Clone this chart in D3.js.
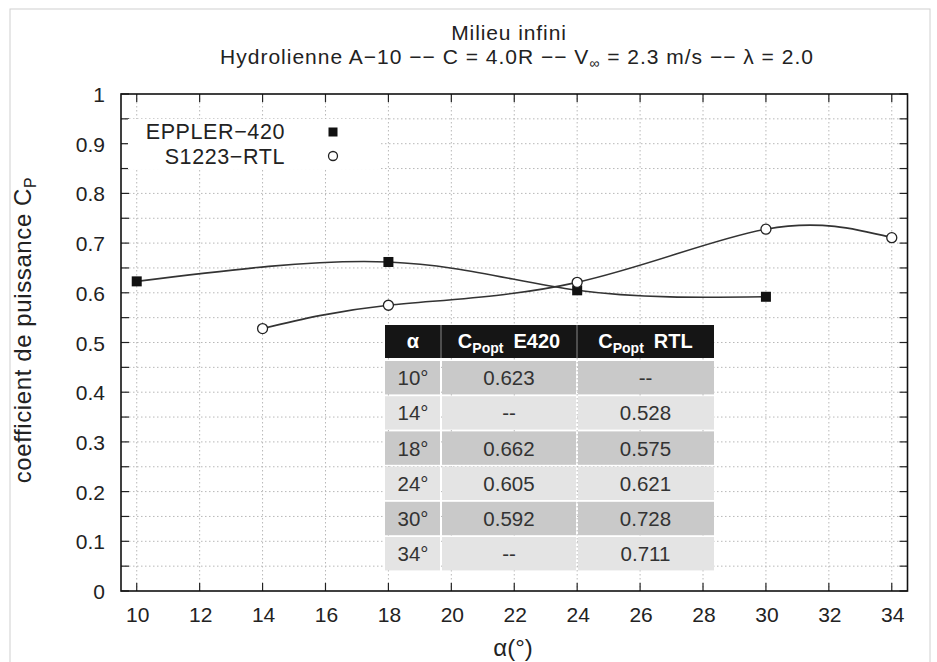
<!DOCTYPE html>
<html>
<head>
<meta charset="utf-8">
<script src="https://cdn.jsdelivr.net/npm/d3@7"></script>
<style>
  body { margin: 0; background: #fff; }
  text { font-family: "Liberation Sans", Arial, sans-serif; }
</style>
</head>
<body>
<div id="chart"></div>
<script>
// data
const anglesE420 = [10, 18, 24, 30];
const cpE420 = [0.623, 0.662, 0.605, 0.592];
const anglesRTL = [14, 18, 24, 30, 34];
const cpRTL = [0.528, 0.575, 0.621, 0.728, 0.711];

// table rows
const tableAngles = ["10°", "14°", "18°", "24°", "30°", "34°"];
const tableE420 = ["0.623", "--", "0.662", "0.605", "0.592", "--"];
const tableRTL = ["--", "0.528", "0.575", "0.621", "0.728", "0.711"];

const xTicks = d3.range(10, 35, 2);
const yTicks = d3.range(0, 1.01, 0.1);
const yMinor = d3.range(0, 1.001, 0.05);

const width = 937, height = 662;
const plotLeft = 121, plotRight = 907.5, plotTop = 94, plotBottom = 591;

const svg = d3.select("#chart").append("svg")
  .attr("width", width)
  .attr("height", height);

// faint page border
svg.append("rect")
  .attr("x", 10).attr("y", 9)
  .attr("width", 920).attr("height", 700)
  .attr("fill", "none")
  .attr("stroke", "#d0d0d0")
  .attr("stroke-width", 1);

const x = d3.scaleLinear().domain([9.5, 34.5]).range([plotLeft, plotRight]);
const y = d3.scaleLinear().domain([0, 1]).range([plotBottom, plotTop]);

// grid
const grid = svg.append("g")
  .attr("stroke", "#b8b8b8")
  .attr("stroke-width", 1)
  .attr("stroke-dasharray", "1.5,2.5");

grid.selectAll(".vg").data(xTicks).enter().append("line")
  .attr("x1", d => x(d)).attr("x2", d => x(d))
  .attr("y1", plotTop).attr("y2", plotBottom);

grid.selectAll(".hg").data(yMinor.slice(1, -1)).enter().append("line")
  .attr("x1", plotLeft).attr("x2", plotRight)
  .attr("y1", d => y(d)).attr("y2", d => y(d));

// ticks (inward, on all four sides)
const tickLen = 8;
const ticks = svg.append("g").attr("stroke", "#222").attr("stroke-width", 1.2);
xTicks.forEach(d => {
  ticks.append("line").attr("x1", x(d)).attr("x2", x(d)).attr("y1", plotBottom).attr("y2", plotBottom - tickLen);
  ticks.append("line").attr("x1", x(d)).attr("x2", x(d)).attr("y1", plotTop).attr("y2", plotTop + tickLen);
});
yMinor.forEach(d => {
  ticks.append("line").attr("x1", plotLeft).attr("x2", plotLeft + tickLen).attr("y1", y(d)).attr("y2", y(d));
  ticks.append("line").attr("x1", plotRight).attr("x2", plotRight - tickLen).attr("y1", y(d)).attr("y2", y(d));
});

// tick labels
svg.append("g").selectAll("text").data(xTicks).enter().append("text")
  .attr("x", d => x(d) + 1)
  .attr("y", 622)
  .attr("text-anchor", "middle")
  .attr("font-size", 21)
  .attr("fill", "#222")
  .text(d => d);

svg.append("g").selectAll("text").data(yTicks).enter().append("text")
  .attr("x", 105)
  .attr("y", d => y(d) + 8)
  .attr("text-anchor", "end")
  .attr("font-size", 21)
  .attr("fill", "#222")
  .text(d => d3.format("~g")(+d.toFixed(1)));

// curves
const line = d3.line()
  .x(d => x(d[0]))
  .y(d => y(d[1]))
  .curve(d3.curveNatural);

const ptsE420 = anglesE420.map((a, i) => [a, cpE420[i]]);
const ptsRTL = anglesRTL.map((a, i) => [a, cpRTL[i]]);

svg.append("path")
  .attr("d", line(ptsE420))
  .attr("fill", "none")
  .attr("stroke", "#333")
  .attr("stroke-width", 1.6);

svg.append("path")
  .attr("d", line(ptsRTL))
  .attr("fill", "none")
  .attr("stroke", "#333")
  .attr("stroke-width", 1.6);

// markers
svg.selectAll(".sq").data(ptsE420).enter().append("rect")
  .attr("x", d => x(d[0]) - 5)
  .attr("y", d => y(d[1]) - 5)
  .attr("width", 10).attr("height", 10)
  .attr("fill", "#111");

svg.selectAll(".ci").data(ptsRTL).enter().append("circle")
  .attr("cx", d => x(d[0]))
  .attr("cy", d => y(d[1]))
  .attr("r", 5)
  .attr("fill", "#fff")
  .attr("stroke", "#222")
  .attr("stroke-width", 1.3);

// legend (opaque box)
const legend = svg.append("g");
legend.append("rect")
  .attr("x", 128).attr("y", 119)
  .attr("width", 252).attr("height", 50)
  .attr("fill", "#fff");
legend.append("text")
  .attr("x", 285).attr("y", 139)
  .attr("text-anchor", "end")
  .attr("font-size", 21.5)
  .attr("letter-spacing", 0.6)
  .attr("fill", "#222")
  .text("EPPLER\u2212420");
legend.append("text")
  .attr("x", 285).attr("y", 164)
  .attr("text-anchor", "end")
  .attr("font-size", 21.5)
  .attr("letter-spacing", 0.6)
  .attr("fill", "#222")
  .text("S1223\u2212RTL");
legend.append("rect")
  .attr("x", 328.5).attr("y", 127.5)
  .attr("width", 9).attr("height", 9)
  .attr("fill", "#111");
legend.append("circle")
  .attr("cx", 333).attr("cy", 156)
  .attr("r", 4.5)
  .attr("fill", "#fff")
  .attr("stroke", "#222")
  .attr("stroke-width", 1.3);

// frame
svg.append("rect")
  .attr("x", plotLeft).attr("y", plotTop)
  .attr("width", plotRight - plotLeft).attr("height", plotBottom - plotTop)
  .attr("fill", "none")
  .attr("stroke", "#111")
  .attr("stroke-width", 1.6);

// data table
const colX = [385, 441, 577, 714];
const headTop = 325, headH = 33;
const rowTop = 361, rowStep = 35.2, rowH = 33.4;
const table = svg.append("g");

table.append("rect")
  .attr("x", colX[0]).attr("y", headTop)
  .attr("width", colX[3] - colX[0]).attr("height", headH)
  .attr("fill", "#151515");
[1, 2].forEach(c => {
  table.append("line")
    .attr("x1", colX[c]).attr("x2", colX[c])
    .attr("y1", headTop).attr("y2", headTop + headH)
    .attr("stroke", "#888").attr("stroke-width", 1);
});

const hdrY = headTop + 23;
const colMid = c => (colX[c] + colX[c + 1]) / 2;
table.append("text")
  .attr("x", colMid(0)).attr("y", hdrY)
  .attr("text-anchor", "middle")
  .attr("font-size", 20).attr("font-weight", "bold")
  .attr("fill", "#fff")
  .text("\u03b1");

["E420", "RTL"].forEach((name, i) => {
  const t = table.append("text")
    .attr("x", colMid(i + 1)).attr("y", hdrY)
    .attr("text-anchor", "middle")
    .attr("font-size", 20).attr("font-weight", "bold")
    .attr("fill", "#fff");
  t.append("tspan").text("C");
  t.append("tspan").attr("font-size", 14).attr("dy", 5).text("Popt");
  t.append("tspan").attr("dy", -5).text("\u2002" + name);
});

tableAngles.forEach((a, r) => {
  const ry = rowTop + r * rowStep;
  const fill = r % 2 === 0 ? "#c9c9c9" : "#e4e4e4";
  const cells = [a, tableE420[r], tableRTL[r]];
  cells.forEach((v, c) => {
    table.append("rect")
      .attr("x", colX[c] + (c > 0 ? 1 : 0))
      .attr("y", ry)
      .attr("width", colX[c + 1] - colX[c] - (c > 0 ? 1 : 0) - (c < 2 ? 1 : 0))
      .attr("height", rowH)
      .attr("fill", fill);
    table.append("text")
      .attr("x", colMid(c)).attr("y", ry + rowH / 2 + 7.5)
      .attr("text-anchor", "middle")
      .attr("font-size", 20.5)
      .attr("fill", "#333")
      .text(v);
  });
});

// titles
svg.append("text")
  .attr("x", 509).attr("y", 40)
  .attr("text-anchor", "middle")
  .attr("font-size", 21)
  .attr("letter-spacing", 0.9)
  .attr("fill", "#222")
  .text("Milieu infini");

const sub = svg.append("text")
  .attr("x", 517).attr("y", 64)
  .attr("text-anchor", "middle")
  .attr("font-size", 21)
  .attr("letter-spacing", 1)
  .attr("fill", "#222");
sub.append("tspan").text("Hydrolienne A\u221210 \u2212\u2212 C = 4.0R \u2212\u2212 V");
sub.append("tspan").attr("font-size", 14).attr("dy", 4).text("\u221e");
sub.append("tspan").attr("dy", -4).text(" = 2.3 m/s \u2212\u2212 \u03bb = 2.0");

// axis labels
svg.append("text")
  .attr("x", 513).attr("y", 656)
  .attr("text-anchor", "middle")
  .attr("font-size", 24)
  .attr("fill", "#222")
  .text("\u03b1(\u00b0)");

const yl = svg.append("text")
  .attr("transform", "translate(31,330) rotate(-90)")
  .attr("text-anchor", "middle")
  .attr("font-size", 24)
  .attr("letter-spacing", 0.6)
  .attr("fill", "#222");
yl.append("tspan").text("coefficient de puissance C");
yl.append("tspan").attr("font-size", 16).attr("dy", 5).text("P");
</script>
</body>
</html>
